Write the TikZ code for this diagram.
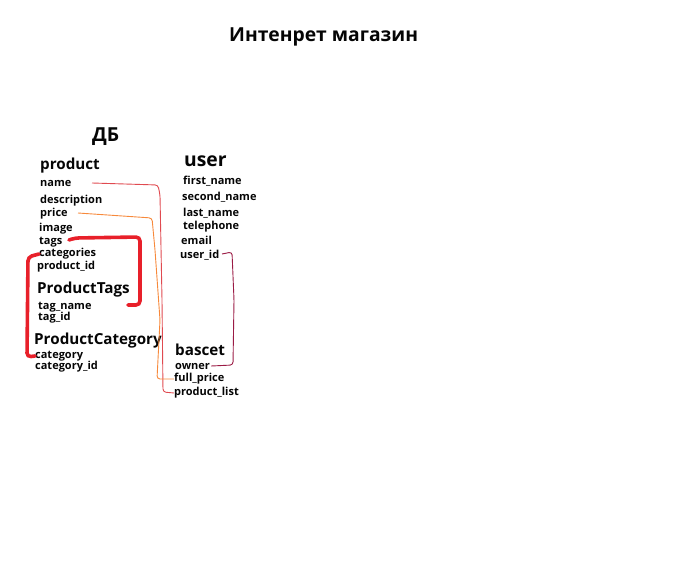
\documentclass[tikz,border=0pt]{standalone}
\usepackage{fontspec}
\setmainfont{Open Sans}
\definecolor{ShopInk}{HTML}{050505}
\definecolor{ShopLinkRed}{HTML}{E04A50}
\definecolor{ShopLinkOrange}{HTML}{F7893B}
\definecolor{ShopLinkWine}{HTML}{9B1B45}
\definecolor{ShopBracket}{HTML}{E8202A}

\begin{document}
\begin{tikzpicture}[x=1pt,y=-1pt,
    field/.style={anchor=west,inner sep=0pt,text=ShopInk,font=\bfseries\fontsize{11}{11}\selectfont},
    tablehead/.style={anchor=west,inner sep=0pt,text=ShopInk,font=\bfseries\fontsize{15.2}{15.2}\selectfont},
    bighead/.style={tablehead,font=\bfseries\fontsize{19.3}{19.3}\selectfont},
    thinlink/.style={line width=0.9pt,rounded corners=3pt},
    bracket/.style={ShopBracket,line width=3.6pt,rounded corners=4pt,line cap=round}]
    \useasboundingbox (0,0) rectangle (696,564);
    % headings
    \node[bighead] (title) at (229,37) {Интенрет магазин};
    \node[bighead] (db) at (92,137) {ДБ};
    \node[tablehead] (product) at (40,166) {product};
    \node[bighead] (user) at (184,161) {user};
    \node[tablehead] (ptags) at (37,290) {ProductTags};
    \node[tablehead] (pcat) at (34,341) {ProductCategory};
    \node[tablehead] (bascet) at (175,350) {bascet};
    % fields
    \foreach \n/\x/\y/\t in {
      pname/40/183/name, pdesc/40/201/description, pprice/40/214/price,
      pimage/39/229/image, ptagsf/39/242/tags, pcats/39/254/categories,
      pid/37/267/product\_id,
      tname/38/307/tag\_name, tid/38/318/tag\_id,
      cname/35/356/category, cid/35/367/category\_id,
      ufirst/183/181/first\_name, usecond/182/197/second\_name,
      ulast/183/213/last\_name, utel/183/227/telephone,
      umail/181/240/email, uid/180/255/user\_id,
      bowner/175/366/owner, bprice/174/379/full\_price, blist/174/393/product\_list
    } {
      \node[field] (\n) at (\x,\y) {\t};
    }
    % links
    \coordinate (namestart) at (92,183);
    \coordinate (pricestart) at (78,213);
    \coordinate (uidstart) at (222,254);
    \coordinate (tagsstart) at (69,240);
    \coordinate (tagsend) at (128,305);
    \draw[thinlink,ShopLinkRed] (namestart) -- (158,185) -- (160,195)
      -- (162,300) -- (163,392) -- (blist.west);
    \draw[thinlink,ShopLinkOrange] (pricestart) -- (152,218) -- (155,250)
      -- (160,320) -- (157,379) -- (bprice.west);
    \draw[thinlink,ShopLinkWine] (uidstart) -- (232,252) -- (234,300)
      -- (233,365) -- ([xshift=1pt]bowner.east);
    \draw[bracket] (tagsstart) -- (75,238) -- (140,237) -- (140,305) -- (tagsend);
    \draw[bracket] (pcats.west) -- (28,257) -- (27,357) -- (cname.west);
\end{tikzpicture}
\end{document}
